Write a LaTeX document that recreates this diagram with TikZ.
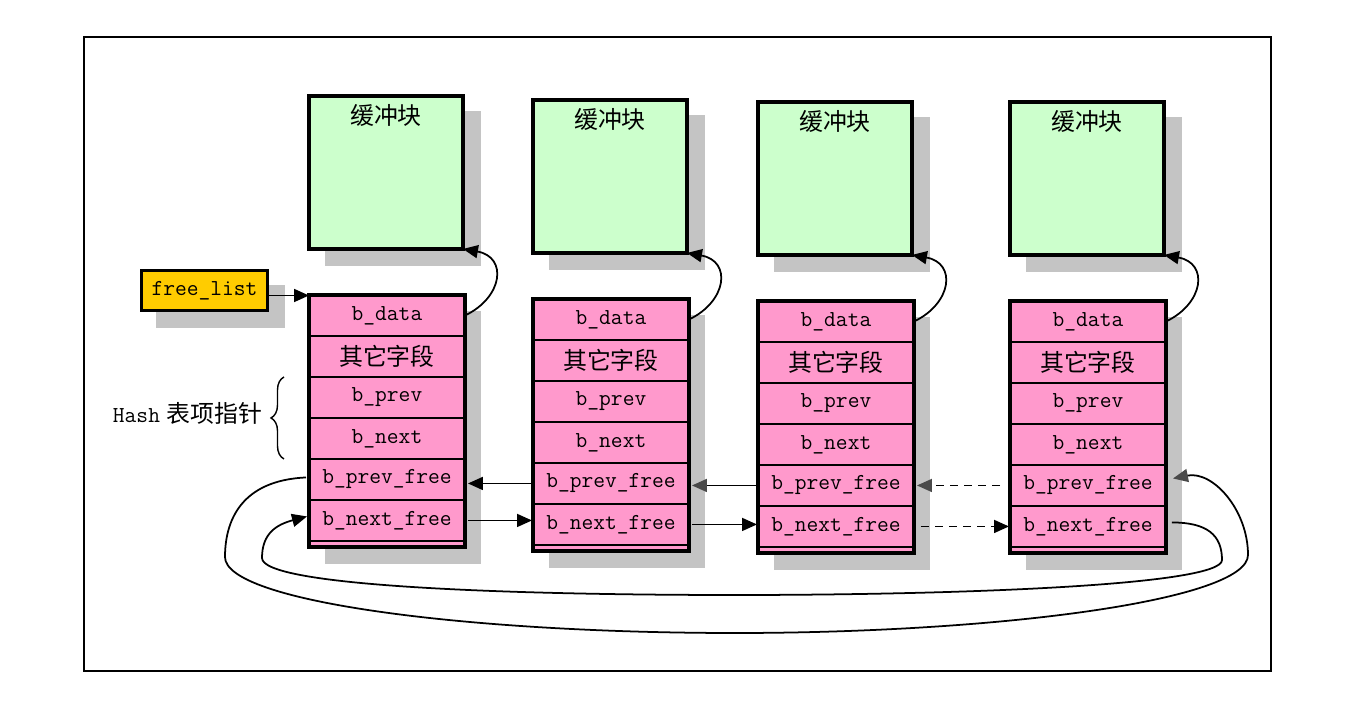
\documentclass[tikz,border=0pt]{standalone}
\usepackage{fontspec}
\newfontfamily\cjk{Noto Sans CJK SC}
\usetikzlibrary{arrows.meta,decorations.pathreplacing,positioning}
\definecolor{bhpink}{HTML}{FF99CC}
\definecolor{bhgreen}{HTML}{CCFFCC}
\definecolor{bhgold}{HTML}{FFCC00}
\definecolor{bhshade}{HTML}{C4C4C4}
\definecolor{bhtip}{HTML}{4A4A4A}
\newcommand{\zh}[1]{{\cjk\fontsize{13.6}{16}\selectfont #1}}

\begin{document}
\begin{tikzpicture}[
  x=0.02cm,y=-0.02cm,
  >={Triangle[length=0.3cm,width=0.26cm]},
  buf/.style={draw,line width=1.8pt,fill=bhgreen,minimum width=3.08cm,
    minimum height=3.06cm,anchor=north west,inner sep=0pt,outer sep=0pt},
  field/.style={draw,line width=0.9pt,fill=bhpink,minimum width=3.12cm,
    minimum height=0.82cm,inner sep=0pt,outer sep=0pt,
    font=\fontsize{13}{15}\selectfont\ttfamily},
  shade/.style={fill=bhshade},
  link/.style={->,line width=1pt},
  gtip/.style={-{Triangle[length=0.3cm,width=0.26cm,color=bhtip]}}
]
  \useasboundingbox (0,0) rectangle (1350,709);
  \draw[line width=1.1pt] (84,37) rectangle (1271,671);

  % free list head
  \fill[shade] (156,285) rectangle (285,328);
  \node[draw,line width=1.8pt,fill=bhgold,minimum width=2.52cm,minimum height=0.8cm,
    inner sep=0pt,font=\fontsize{13}{15}\selectfont\ttfamily] (free) at (204.5,290.5) {free\_list};

  % buffer heads and their blocks
  \foreach \i/\x/\gy/\py in {1/309/96/295,2/533/100/299,3/758/102/301,4/1010/102/301}{
    \fill[shade] (\x+16,\gy+15) rectangle ++(156,155);
    \node[buf] (buf\i) at (\x,\gy) {};
    \node (cap\i) at ([yshift=-0.38cm]buf\i.north) {\zh{缓冲块}};
    \fill[shade] (\x+16,\py+16) rectangle ++(156,253);
    \node[field,anchor=north west] (d\i) at (\x,\py) {b\_data};
    \node[field,below=0pt of d\i] (o\i) {\zh{其它字段}};
    \node[field,below=0pt of o\i] (p\i) {b\_prev};
    \node[field,below=0pt of p\i] (n\i) {b\_next};
    \node[field,below=0pt of n\i] (pf\i) {b\_prev\_free};
    \node[field,below=0pt of pf\i] (nf\i) {b\_next\_free};
    \draw[line width=0.9pt,fill=bhpink] (nf\i.south west) rectangle ([yshift=-0.12cm]nf\i.south east);
    \draw[line width=1.9pt] (d\i.north west) rectangle ([yshift=-0.12cm]nf\i.south east);
    \draw[link] (d\i.east) .. controls +(38,-18) and +(45,8) .. (buf\i.south east);
  }

  \draw[link] ([yshift=-0.1cm]free.east) -- ([yshift=-0.1cm]free.east -| d1.west);

  % Hash pointers
  \draw[decorate,decoration={brace,amplitude=0.26cm},line width=0.8pt]
    ([xshift=-0.5cm]n1.south west) -- ([xshift=-0.5cm]p1.north west)
    node[midway,anchor=east,xshift=-0.3cm,yshift=0.1cm] (hashlbl)
      {\fontsize{13}{15}\selectfont\ttfamily Hash\hspace{0.3em}\zh{表项指针}};

  % free list links
  \draw[link,shorten >=0.06cm] (pf2.west) -- (pf2.west -| pf1.east);
  \draw[link,shorten <=0.06cm,shorten >=0.02cm] (nf1.east) -- (nf1.east -| nf2.west);
  \draw[link,gtip,shorten >=0.06cm] (pf3.west) -- (pf3.west -| pf2.east);
  \draw[link,shorten <=0.06cm,shorten >=0.02cm] (nf2.east) -- (nf2.east -| nf3.west);
  \draw[link,gtip,dashed,dash pattern=on 4.5pt off 3.5pt,shorten <=0.2cm,shorten >=0.06cm]
    (pf4.west) -- (pf4.west -| pf3.east);
  \draw[link,dashed,dash pattern=on 4.5pt off 3.5pt,shorten <=0.14cm,shorten >=0.02cm]
    (nf3.east) -- (nf3.east -| nf4.west);

  % wrap-around links
  \draw[link,gtip] ([xshift=-0.06cm,yshift=0.04cm]pf1.west)
    .. controls +(-66,3) and +(0,-35) .. (225,557)
    .. controls +(0,45) and +(-265,0) .. (735,633)
    .. controls +(265,0) and +(0,45) .. (1248,555)
    .. controls +(0,-45) and +(40,-8) .. ([xshift=0.14cm,yshift=0.14cm]pf4.east);
  \draw[link] ([xshift=0.12cm,yshift=0.08cm]nf4.east)
    .. controls +(35,0) and +(0,-25) .. (1222,560)
    .. controls +(0,25) and +(230,0) .. (735,595)
    .. controls +(-230,0) and +(0,28) .. (262,558)
    .. controls +(0,-25) and +(-30,8) .. ([xshift=-0.04cm,yshift=0.08cm]nf1.west);
\end{tikzpicture}
\end{document}
